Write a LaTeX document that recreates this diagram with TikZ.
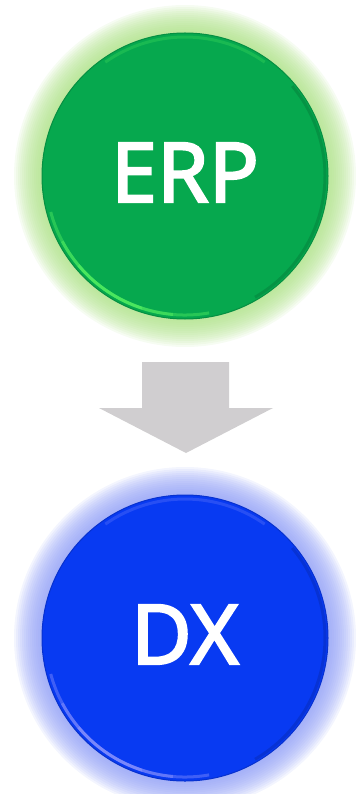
\documentclass[tikz,border=0pt]{standalone}
\usepackage{fontspec}
\setmainfont{Noto Sans}
\newfontfamily\btnfont{Noto Sans}[FakeBold=2.5]
\usetikzlibrary{positioning,backgrounds}
\definecolor{erpgreen}{RGB}{6,168,78}
\definecolor{dxblue}{RGB}{8,58,242}
\definecolor{glowgreen}{RGB}{170,224,130}
\definecolor{glowblue}{RGB}{140,155,246}
\definecolor{arrowgray}{RGB}{208,206,208}
\tikzset{
    button/.style={circle, minimum size=286pt, inner sep=0pt, text=white,
        text depth=7pt, font=\btnfont\fontsize{83}{90}\selectfont},
    rimlight/.style={line width=3pt, opacity=0.35},
    rimdark/.style={line width=3pt, black, opacity=0.12}
}

\begin{document}
\begin{tikzpicture}[x=1pt,y=1pt]
  \useasboundingbox (0,0) rectangle (359,-794);
  % Draw the buttons
  \node[button, fill=erpgreen, draw=erpgreen!85!black, line width=1pt] (erp) at (185,-176) {ERP};
  \node[button, fill=dxblue, draw=dxblue!85!black, line width=1pt] (dx) at (185,-638) {DX};

  % Glow behind the buttons
  \begin{scope}[on background layer]
    \foreach \r in {143,145,...,171}{
      \fill[glowgreen, opacity=0.1] (erp.center) circle (\r);
      \fill[glowblue, opacity=0.1] (dx.center) circle (\r);
    }
  \end{scope}

  % Rim highlights
  \foreach \b/\c in {erp/green!60!white, dx/blue!35!white}{
    \foreach \s/\e in {195/280,208/265,220/252}{
      \draw[rimlight, \c] ([shift={(\s:139pt)}]\b.center) arc (\s:\e:139pt);
    }
    \draw[rimlight, \c, opacity=0.2] ([shift={(55:139pt)}]\b.center) arc (55:125:139pt);
    \draw[rimdark] ([shift={(-60:140pt)}]\b.center) arc (-60:40:140pt);
  }

  % Draw the arrow
  \fill[arrowgray] (142,-362) -- (229,-362) -- (229,-408) -- (273,-408)
    -- (186,-453) -- (99,-408) -- (142,-408) -- cycle;
\end{tikzpicture}
\end{document}
